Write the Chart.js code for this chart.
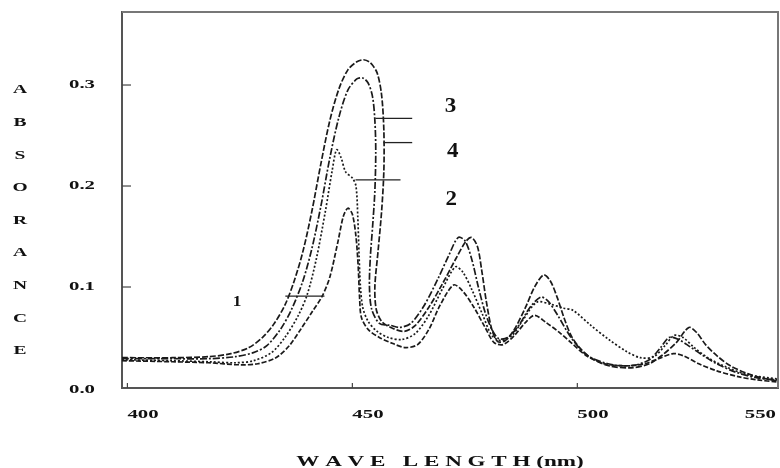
<!DOCTYPE html>
<html>
<head>
<meta charset="utf-8">
<script src="https://cdn.jsdelivr.net/npm/chart.js@4/dist/chart.umd.min.js"></script>
<style>
  html, body { margin: 0; padding: 0; background: #fff; }
  #wrap { width: 780px; height: 468px; position: relative; }
</style>
</head>
<body>
<div id="wrap"><canvas id="spectrum"></canvas></div>
<script>
// 흡수 스펙트럼 데이터 (파장 nm / 흡광도)
const curve1Wl  = [398.8, 410, 418, 425, 429, 433, 436, 438.5, 441, 443.3, 445, 446.8, 448, 449, 450, 450.8, 451.3, 451.6, 452, 453.5, 456, 459, 461.8, 464.5, 467, 469.5, 472.5, 474.5, 477, 479.5, 481.5, 483.5, 486, 488.5, 490.5, 493, 496, 498.6, 502, 506, 511, 515, 518, 521.3, 523.5, 527, 531, 536, 540, 544.4];
const curve1Abs = [0.027, 0.026, 0.025, 0.023, 0.024, 0.030, 0.042, 0.058, 0.075, 0.091, 0.110, 0.145, 0.170, 0.178, 0.172, 0.150, 0.120, 0.090, 0.070, 0.058, 0.050, 0.044, 0.040, 0.043, 0.058, 0.082, 0.102, 0.096, 0.080, 0.060, 0.045, 0.043, 0.052, 0.065, 0.072, 0.065, 0.055, 0.045, 0.032, 0.024, 0.022, 0.024, 0.029, 0.034, 0.032, 0.024, 0.017, 0.011, 0.008, 0.006];

const curve2Wl  = [398.8, 410, 418, 424, 428, 432, 435, 438, 440, 442, 444, 445.5, 446.5, 447.5, 448.5, 450, 450.8, 451.2, 451.5, 451.8, 452.3, 453.5, 455.5, 458, 461, 464, 467, 470, 472.9, 474.5, 476.5, 479, 481, 483, 485.5, 488, 491, 494, 497, 499, 503, 507, 511, 514, 517, 519.5, 521.5, 523.5, 526, 529, 533, 538, 544.4];
const curve2Abs = [0.028, 0.027, 0.026, 0.025, 0.027, 0.035, 0.050, 0.072, 0.093, 0.128, 0.175, 0.215, 0.236, 0.228, 0.214, 0.208, 0.200, 0.170, 0.130, 0.100, 0.080, 0.066, 0.056, 0.050, 0.048, 0.054, 0.072, 0.098, 0.120, 0.115, 0.098, 0.072, 0.052, 0.047, 0.052, 0.068, 0.085, 0.083, 0.079, 0.077, 0.062, 0.048, 0.036, 0.030, 0.031, 0.042, 0.052, 0.050, 0.040, 0.030, 0.021, 0.013, 0.009];

const curve3Wl  = [398.8, 410, 418, 424, 428, 431, 434, 436.5, 439, 441, 443, 445, 447, 449, 451, 452.3, 453.5, 454.5, 455, 455.2, 455, 454.5, 454, 453.8, 454.3, 456, 458.5, 460.5, 463, 466, 469, 471.5, 473.5, 475, 476.5, 478, 479.5, 481, 482.5, 484.5, 487, 489.5, 491.9, 493.5, 495.5, 498.6, 502, 506.8, 512, 516, 518.5, 520.4, 522.5, 525, 528, 531, 535, 540, 544.4];
const curve3Abs = [0.029, 0.029, 0.029, 0.031, 0.035, 0.042, 0.058, 0.078, 0.106, 0.138, 0.180, 0.228, 0.268, 0.295, 0.306, 0.307, 0.302, 0.288, 0.265, 0.235, 0.195, 0.160, 0.130, 0.100, 0.078, 0.064, 0.062, 0.060, 0.064, 0.082, 0.108, 0.132, 0.149, 0.146, 0.128, 0.100, 0.075, 0.058, 0.049, 0.050, 0.062, 0.080, 0.090, 0.086, 0.073, 0.050, 0.033, 0.024, 0.022, 0.028, 0.040, 0.050, 0.048, 0.041, 0.032, 0.024, 0.016, 0.010, 0.008];

const curve4Wl  = [398.8, 410, 418, 423, 427, 430, 432.5, 435, 437, 439, 441, 443, 445, 447, 449, 451, 452.5, 454, 455.5, 456.5, 457, 457, 456.5, 455.7, 455, 455.3, 456.5, 458.5, 461.5, 464, 467, 470, 473, 475.2, 476.5, 477.8, 478.8, 479.8, 481, 482.3, 484, 486, 488.5, 490.5, 492.5, 494, 495.5, 497, 498.6, 500.5, 503, 507, 512, 516, 519, 522, 524.8, 526.5, 528.5, 531, 534, 538, 541, 544.4];
const curve4Abs = [0.030, 0.030, 0.031, 0.034, 0.040, 0.050, 0.063, 0.082, 0.105, 0.135, 0.175, 0.222, 0.265, 0.296, 0.315, 0.323, 0.325, 0.322, 0.312, 0.290, 0.255, 0.215, 0.175, 0.135, 0.100, 0.078, 0.066, 0.060, 0.056, 0.062, 0.080, 0.103, 0.128, 0.145, 0.149, 0.140, 0.115, 0.085, 0.058, 0.046, 0.047, 0.058, 0.080, 0.100, 0.112, 0.106, 0.090, 0.070, 0.052, 0.040, 0.030, 0.022, 0.020, 0.024, 0.033, 0.045, 0.060, 0.055, 0.043, 0.032, 0.022, 0.014, 0.010, 0.007];

const seriesNames = ['1', '2', '3', '4'];
const xTickValues = [400, 450, 500, 550];
const xTickLabels = ['400', '450', '500', '550'];
const yTickValues = [0, 0.1, 0.2, 0.3];
const yTickLabels = ['0.0', '0.1', '0.2', '0.3'];
const yTitleLetters = ['A', 'B', 'S', 'O', 'R', 'A', 'N', 'C', 'E'];
const xTitle = 'W A V E   L E N G T H (nm)';

// 곡선 번호 표시용 (지시선 시작/끝 파장, 흡광도, 글자 위치)
const markFrom  = [435.1, 450.7, 455.1, 456.9];
const markTo    = [443.8, 460.7, 463.3, 463.3];
const markAbs   = [0.091, 0.206, 0.267, 0.243];
const labelWl   = [424.4, 472.0, 471.8, 472.3];
const labelAbs  = [0.085, 0.186, 0.278, 0.234];

const SERIF = '"Liberation Serif", "DejaVu Serif", serif';

const toPoints = (wl, abs) => wl.map((x, i) => ({ x, y: abs[i] }));

const dashes = [[5, 2], [2, 2], [7, 2, 2, 2], [6, 2]];
const datasets = [
    toPoints(curve1Wl, curve1Abs),
    toPoints(curve2Wl, curve2Abs),
    toPoints(curve3Wl, curve3Abs),
    toPoints(curve4Wl, curve4Abs)
].map((data, i) => ({
    label: seriesNames[i],
    data,
    borderColor: '#1a1a1a',
    borderWidth: 1.7,
    borderDash: dashes[i],
    pointRadius: 0,
    tension: 0.3,
    fill: false
}));

// 스캔본처럼 가로로 늘어난 글자
const wideText = (ctx, text, x, y, font, sx, align) => {
    ctx.save();
    ctx.font = font;
    ctx.textAlign = align || 'center';
    ctx.textBaseline = 'middle';
    ctx.translate(x, y);
    ctx.scale(sx, 1);
    ctx.fillText(text, 0, 0);
    ctx.restore();
};

// 축 주변 장식: 테두리, 안쪽 눈금, 눈금 글자, 축 제목, 곡선 번호
const decorPlugin = {
    id: 'decor',
    afterDraw(chart) {
        const { ctx, chartArea: a, scales: { x, y } } = chart;
        ctx.save();

        ctx.strokeStyle = '#777';
        ctx.lineWidth = 2;
        ctx.beginPath();
        ctx.moveTo(a.left, a.top);
        ctx.lineTo(a.right, a.top);
        ctx.lineTo(a.right, a.bottom);
        ctx.stroke();

        ctx.strokeStyle = '#444';
        ctx.lineWidth = 1.2;
        yTickValues.forEach(v => {
            if (v === 0) return;
            const py = y.getPixelForValue(v);
            ctx.beginPath();
            ctx.moveTo(a.left, py);
            ctx.lineTo(a.left + 9, py);
            ctx.stroke();
        });
        xTickValues.forEach(v => {
            const px = x.getPixelForValue(v);
            if (px <= a.left + 2 || px >= a.right - 2) return;
            ctx.beginPath();
            ctx.moveTo(px, a.bottom);
            ctx.lineTo(px, a.bottom - 5);
            ctx.stroke();
        });

        ctx.fillStyle = '#111';
        const tickFont = 'bold 13px ' + SERIF;
        const sx = 1.6;
        ctx.font = tickFont;
        xTickValues.forEach((v, i) => {
            const w = ctx.measureText(xTickLabels[i]).width * sx;
            const px = Math.max(Math.min(x.getPixelForValue(v), a.right - w - 2), a.left + 2);
            wideText(ctx, xTickLabels[i], px, 415, tickFont, sx, 'left');
        });
        yTickValues.forEach((v, i) => {
            wideText(ctx, yTickLabels[i], 95, Math.min(y.getPixelForValue(v), a.bottom - 2) + (v === 0 ? 4 : 0), tickFont, sx, 'right');
        });

        yTitleLetters.forEach((ch, i) => {
            wideText(ctx, ch, 20, 90 + i * 32.6, 'bold 13px ' + SERIF, 1.5);
        });

        wideText(ctx, xTitle, 440, 462, 'bold 14px ' + SERIF, 1.65);

        ctx.strokeStyle = '#222';
        ctx.lineWidth = 1.3;
        seriesNames.forEach((name, i) => {
            const py = y.getPixelForValue(markAbs[i]);
            ctx.beginPath();
            ctx.moveTo(x.getPixelForValue(markFrom[i]), py);
            ctx.lineTo(x.getPixelForValue(markTo[i]), py);
            ctx.stroke();
            const f = (i === 0 ? 'bold 15px ' : 'bold 20px ') + SERIF;
            wideText(ctx, name, x.getPixelForValue(labelWl[i]), y.getPixelForValue(labelAbs[i]), f, 1.15);
        });

        ctx.restore();
    }
};

new Chart(document.getElementById('spectrum'), {
    type: 'line',
    data: { datasets },
    options: {
        responsive: true,
        maintainAspectRatio: false,
        animation: false,
        layout: { padding: { top: 12, right: 2, left: 0, bottom: 0 } },
        plugins: { legend: { display: false }, tooltip: { enabled: false } },
        scales: {
            x: {
                type: 'linear',
                min: 398.8,
                max: 544.6,
                grid: { display: false },
                border: { display: true, color: '#555', width: 2 },
                ticks: { display: false },
                afterFit: (s) => { s.height = 80; s.paddingLeft = 0; s.paddingRight = 0; }
            },
            y: {
                min: 0,
                max: 0.3723,
                grid: { display: false },
                border: { display: true, color: '#555', width: 2 },
                afterBuildTicks: (s) => { s.ticks = yTickValues.map(v => ({ value: v })); },
                ticks: { display: false },
                afterFit: (s) => { s.width = 122; s.paddingTop = 0; s.paddingBottom = 0; }
            }
        }
    },
    plugins: [decorPlugin]
});
</script>
</body>
</html>
